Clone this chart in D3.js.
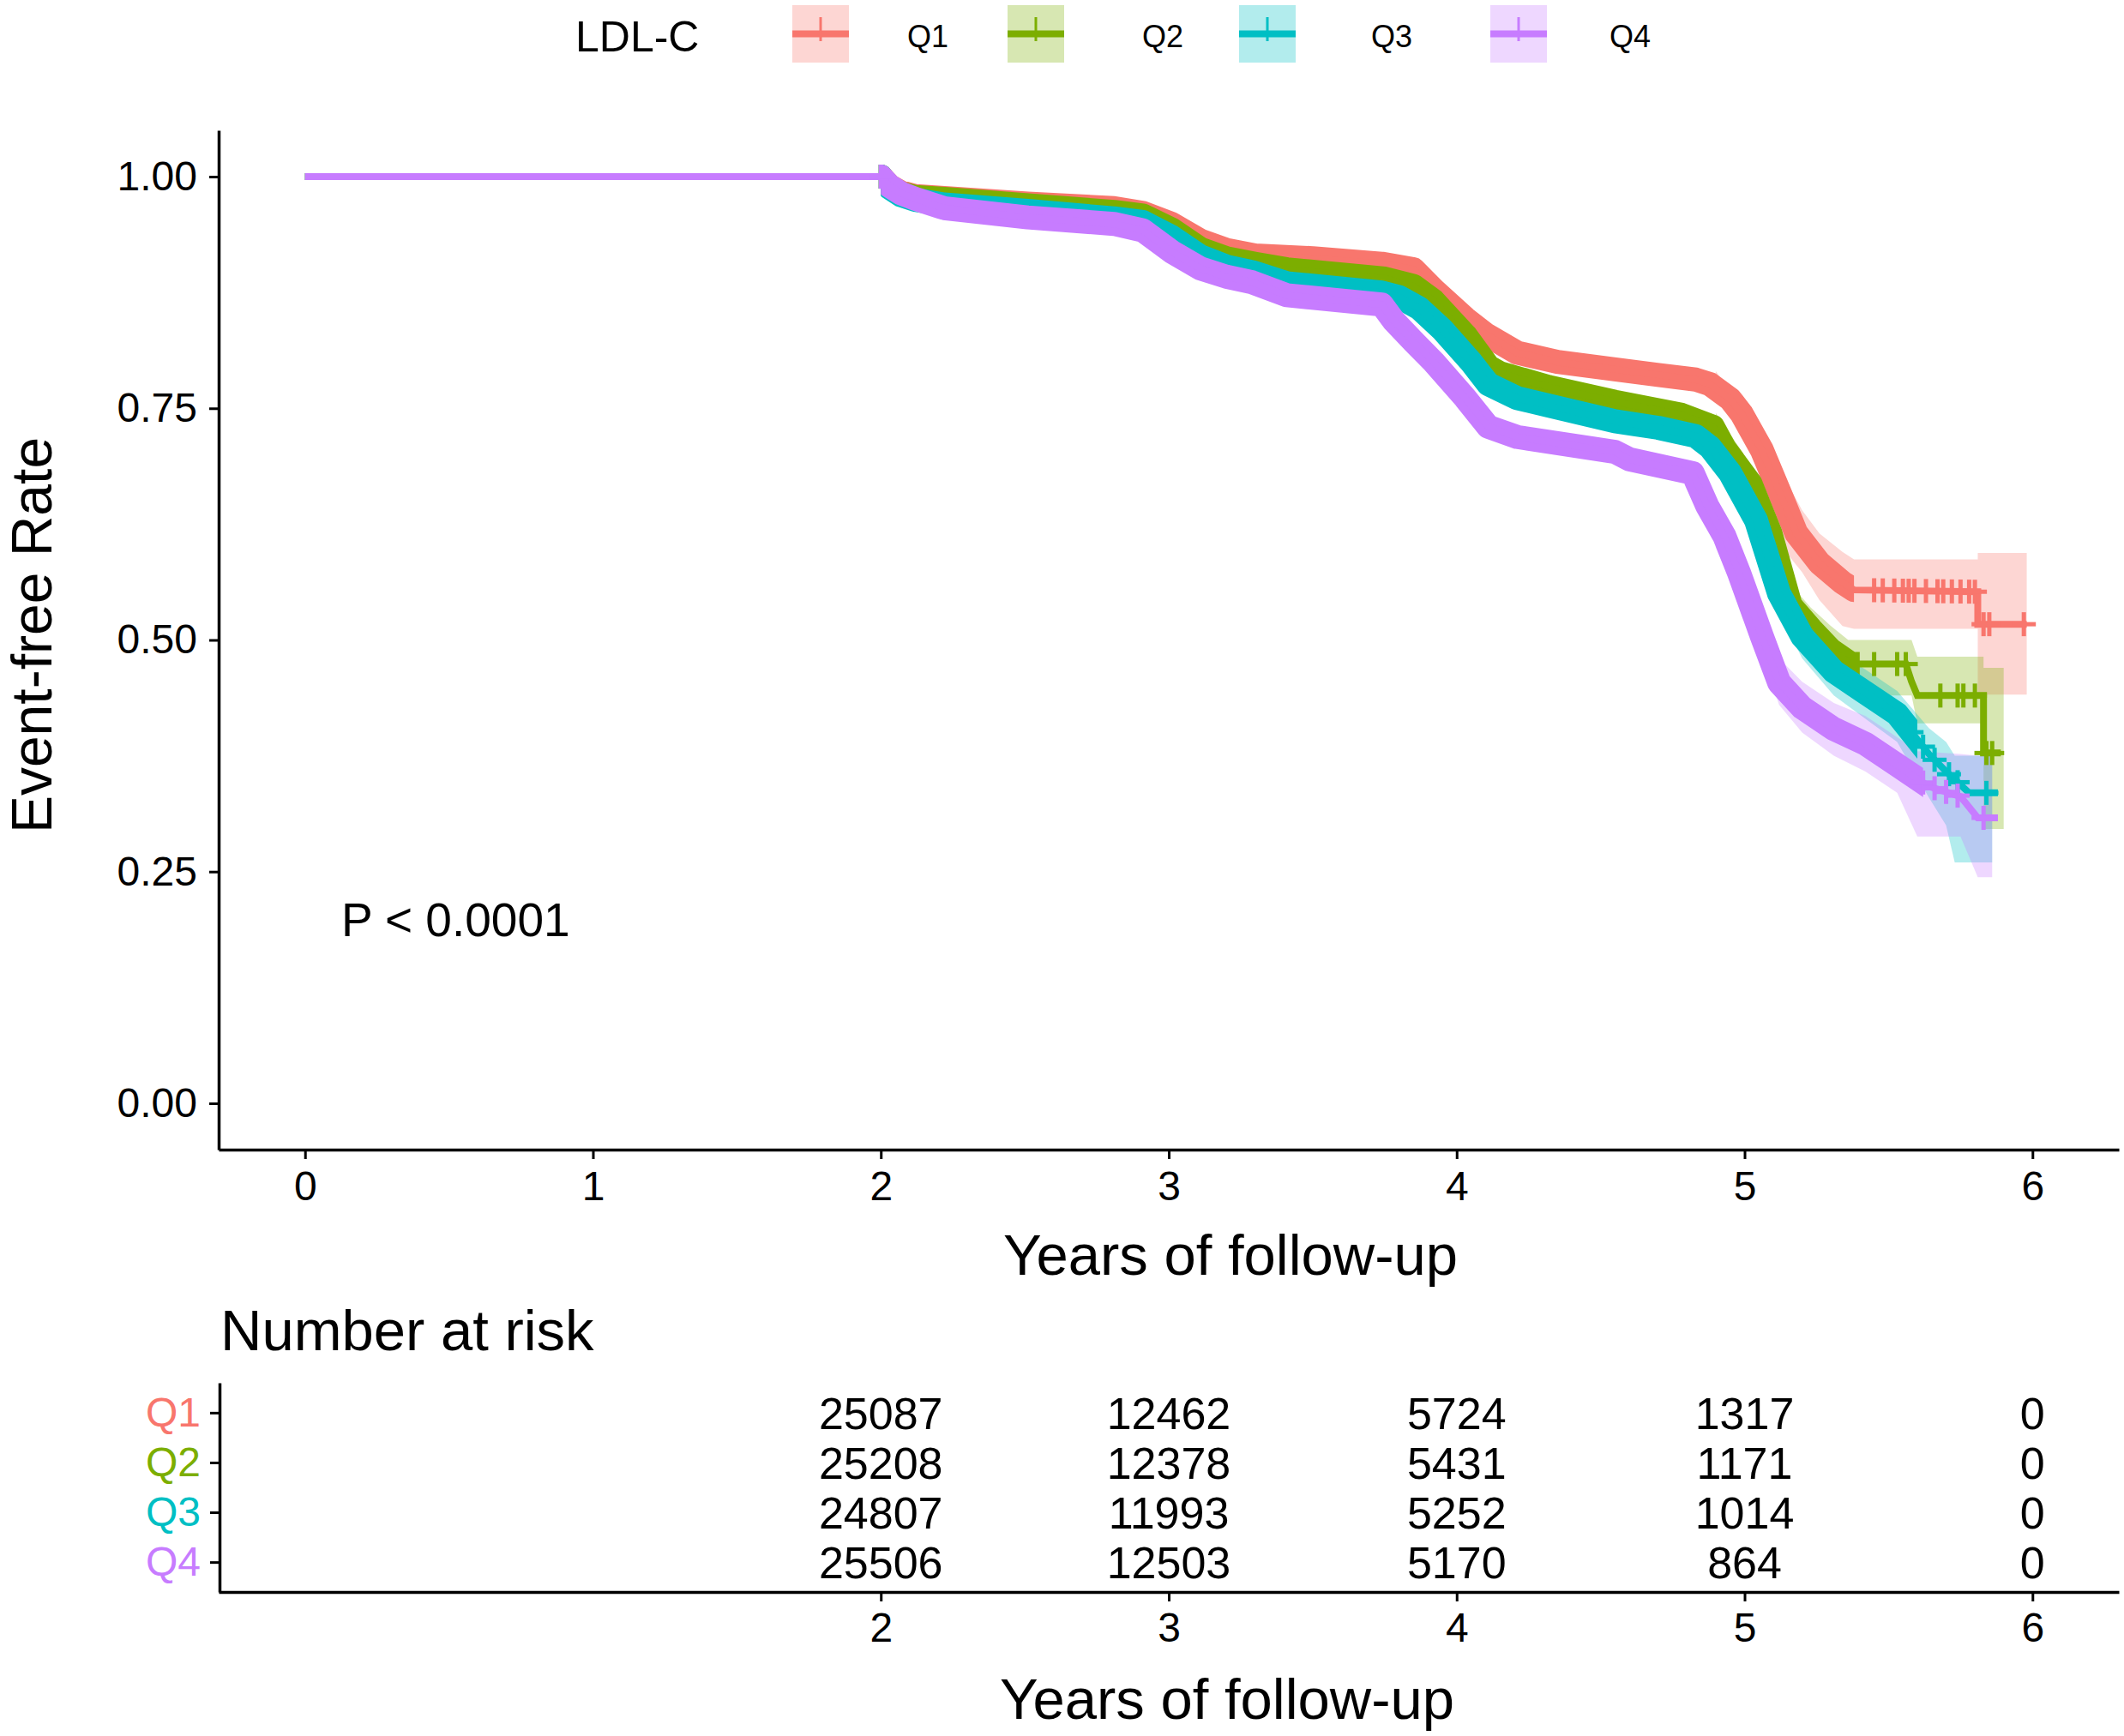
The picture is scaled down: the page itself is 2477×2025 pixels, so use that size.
<!DOCTYPE html>
<html>
<head>
<meta charset="utf-8">
<script src="https://cdn.jsdelivr.net/npm/d3@7"></script>
<style>
  body { margin: 0; background: #fff; }
  svg { display: block; font-family: "Liberation Sans", Arial, sans-serif; }
</style>
</head>
<body>
<svg id="km" width="2477" height="2025"></svg>
<script>
// ---- data ----
const groups = ["Q1", "Q2", "Q3", "Q4"];
const colors = ["#F8766D", "#7CAE00", "#00BFC4", "#C77CFF"];

// survival curve vertices (years, event-free rate); repeated time = vertical drop
const timeQ1 = [0, 2.0, 2.03, 2.07, 2.12, 2.22, 2.51, 2.81, 2.91, 3.01, 3.11, 3.2, 3.3, 3.5, 3.74, 3.85, 3.92, 4.03, 4.1, 4.21, 4.35, 4.55, 4.7, 4.83, 4.88, 4.95, 4.99, 5.06, 5.13, 5.18, 5.26, 5.34, 5.38, 5.81, 5.81, 5.98];
const survQ1 = [1, 1, 0.99, 0.983, 0.979, 0.977, 0.971, 0.966, 0.961, 0.949, 0.931, 0.921, 0.915, 0.912, 0.906, 0.9, 0.878, 0.847, 0.83, 0.81, 0.8, 0.792, 0.786, 0.781, 0.776, 0.76, 0.744, 0.705, 0.653, 0.615, 0.583, 0.562, 0.554, 0.552, 0.517, 0.517];

const timeQ2 = [0, 2.0, 2.03, 2.07, 2.12, 2.22, 2.51, 2.81, 2.91, 3.01, 3.11, 3.2, 3.3, 3.41, 3.75, 3.85, 3.92, 4.03, 4.11, 4.15, 4.32, 4.55, 4.78, 4.89, 4.93, 5.02, 5.09, 5.16, 5.23, 5.3, 5.37, 5.56, 5.58, 5.6, 5.83, 5.83, 5.89];
const survQ2 = [1, 1, 0.989, 0.982, 0.978, 0.976, 0.969, 0.962, 0.958, 0.943, 0.922, 0.912, 0.906, 0.9, 0.89, 0.882, 0.866, 0.829, 0.795, 0.788, 0.773, 0.757, 0.743, 0.73, 0.707, 0.669, 0.615, 0.537, 0.512, 0.489, 0.474, 0.474, 0.455, 0.44, 0.44, 0.378, 0.378];

const timeQ3 = [0, 2.0, 2.03, 2.07, 2.12, 2.22, 2.51, 2.81, 2.91, 3.01, 3.11, 3.2, 3.29, 3.41, 3.74, 3.8, 3.87, 3.95, 4.05, 4.11, 4.21, 4.32, 4.55, 4.7, 4.83, 4.88, 4.95, 5.04, 5.12, 5.2, 5.31, 5.42, 5.53, 5.64, 5.7, 5.78, 5.88];
const survQ3 = [1, 1, 0.988, 0.98, 0.975, 0.97, 0.963, 0.955, 0.951, 0.935, 0.914, 0.903, 0.897, 0.885, 0.875, 0.87, 0.858, 0.835, 0.8, 0.776, 0.761, 0.753, 0.736, 0.729, 0.72, 0.708, 0.68, 0.629, 0.55, 0.504, 0.466, 0.443, 0.42, 0.377, 0.358, 0.335, 0.335];

const timeQ4 = [0, 2.0, 2.03, 2.07, 2.12, 2.22, 2.51, 2.81, 2.91, 3.01, 3.11, 3.2, 3.29, 3.41, 3.74, 3.78, 3.85, 3.92, 4.03, 4.11, 4.21, 4.55, 4.6, 4.82, 4.87, 4.93, 4.98, 5.06, 5.12, 5.2, 5.31, 5.42, 5.53, 5.64, 5.75, 5.81, 5.88];
const survQ4 = [1, 1, 0.99, 0.982, 0.976, 0.966, 0.956, 0.949, 0.942, 0.919, 0.901, 0.892, 0.886, 0.872, 0.862, 0.845, 0.822, 0.8, 0.761, 0.73, 0.719, 0.703, 0.695, 0.68, 0.645, 0.612, 0.573, 0.504, 0.454, 0.427, 0.404, 0.388, 0.365, 0.342, 0.331, 0.308, 0.308];

// 95% confidence band in the tail (earlier it sits under the curve)
const ciTimeQ1 = [4.9, 5.06, 5.13, 5.2, 5.26, 5.34, 5.38, 5.81, 5.81, 5.98];
const ciLowQ1 = [0.765, 0.69, 0.6, 0.573, 0.543, 0.515, 0.512, 0.512, 0.441, 0.441];
const ciUpQ1 = [0.79, 0.72, 0.68, 0.64, 0.615, 0.595, 0.587, 0.587, 0.594, 0.594];

const ciTimeQ2 = [4.9, 5.02, 5.16, 5.23, 5.3, 5.36, 5.58, 5.6, 5.83, 5.83, 5.9];
const ciLowQ2 = [0.715, 0.65, 0.51, 0.48, 0.455, 0.44, 0.44, 0.41, 0.41, 0.296, 0.296];
const ciUpQ2 = [0.745, 0.69, 0.56, 0.535, 0.515, 0.5, 0.5, 0.482, 0.482, 0.47, 0.47];

const ciTimeQ3 = [4.9, 5.04, 5.12, 5.2, 5.31, 5.42, 5.53, 5.64, 5.7, 5.73, 5.86];
const ciLowQ3 = [0.69, 0.61, 0.53, 0.48, 0.44, 0.415, 0.39, 0.33, 0.3, 0.26, 0.26];
const ciUpQ3 = [0.72, 0.65, 0.57, 0.525, 0.49, 0.468, 0.445, 0.405, 0.39, 0.375, 0.375];

const ciTimeQ4 = [4.9, 5.06, 5.12, 5.2, 5.31, 5.42, 5.53, 5.6, 5.75, 5.81, 5.86];
const ciLowQ4 = [0.6, 0.485, 0.43, 0.4, 0.375, 0.358, 0.335, 0.288, 0.288, 0.244, 0.244];
const ciUpQ4 = [0.64, 0.525, 0.48, 0.455, 0.432, 0.418, 0.395, 0.38, 0.377, 0.375, 0.375];

// censoring: continuous from year 2 up to denseEnd, then single marks
const denseStart = 2.0;
const denseEnd = [5.38, 5.4, 5.6, 5.62];
const censorQ1 = [5.45, 5.48, 5.52, 5.55, 5.57, 5.59, 5.63, 5.67, 5.69, 5.72, 5.75, 5.78, 5.8, 5.83, 5.85, 5.97];
const censorQ2 = [5.45, 5.53, 5.56, 5.68, 5.74, 5.76, 5.8, 5.84, 5.86];
const censorQ3 = [5.58, 5.62, 5.66, 5.71, 5.74, 5.84];
const censorQ4 = [5.62, 5.66, 5.7, 5.74, 5.83];

// number at risk
const riskTimes = [2, 3, 4, 5, 6];
const riskQ1 = [25087, 12462, 5724, 1317, 0];
const riskQ2 = [25208, 12378, 5431, 1171, 0];
const riskQ3 = [24807, 11993, 5252, 1014, 0];
const riskQ4 = [25506, 12503, 5170, 864, 0];

const xTicks = [0, 1, 2, 3, 4, 5, 6];
const yTicks = [0, 0.25, 0.5, 0.75, 1];
const pLabel = "P < 0.0001";

// ---- build series ----
const times = [timeQ1, timeQ2, timeQ3, timeQ4];
const survs = [survQ1, survQ2, survQ3, survQ4];
const ciT = [ciTimeQ1, ciTimeQ2, ciTimeQ3, ciTimeQ4];
const ciL = [ciLowQ1, ciLowQ2, ciLowQ3, ciLowQ4];
const ciU = [ciUpQ1, ciUpQ2, ciUpQ3, ciUpQ4];
const censors = [censorQ1, censorQ2, censorQ3, censorQ4];
const risks = [riskQ1, riskQ2, riskQ3, riskQ4];

const series = groups.map((g, i) => ({
  name: g,
  color: colors[i],
  pts: d3.zip(times[i], survs[i]),
  ci: ciT[i].map((t, k) => ({ t: t, lo: ciL[i][k], hi: ciU[i][k] })),
  censor: censors[i],
  denseEnd: denseEnd[i],
  risk: risks[i]
}));

function survAt(pts, t) {
  for (let k = 0; k < pts.length - 1; k++) {
    const [t0, s0] = pts[k], [t1, s1] = pts[k + 1];
    if (t1 === t0) continue;
    if (t >= t0 && t <= t1) return s0 + (s1 - s0) * (t - t0) / (t1 - t0);
  }
  return pts[pts.length - 1][1];
}

const svg = d3.select("#km");
const font = "Liberation Sans, Arial, sans-serif";

// ---- main panel ----
const x = d3.scaleLinear().domain([-0.3, 6.3]).range([255, 2471]);
const y = d3.scaleLinear().domain([-0.05, 1.05]).range([1341, 152]);

const line = d3.line().x(d => x(d[0])).y(d => y(d[1]));
const area = d3.area().x(d => x(d.t)).y0(d => y(d.lo)).y1(d => y(d.hi));

const defs = svg.append("defs");
series.forEach((s, i) => {
  defs.append("clipPath")
      .attr("id", "dense" + i)
    .append("rect")
      .attr("x", x(denseStart))
      .attr("y", 0)
      .attr("width", x(s.denseEnd) - x(denseStart))
      .attr("height", 2025);
});

const plot = svg.append("g");

// confidence bands
plot.selectAll("path.ci")
    .data(series)
    .enter()
    .append("path")
    .attr("class", "ci")
    .attr("d", d => area(d.ci))
    .attr("fill", d => d.color)
    .attr("fill-opacity", 0.3);

// curves: continuous censor marks merge into a thick band
series.forEach((s, i) => {
  plot.append("path")
      .attr("d", line(s.pts))
      .attr("clip-path", `url(#dense${i})`)
      .attr("fill", "none")
      .attr("stroke", s.color)
      .attr("stroke-width", 28)
      .attr("stroke-linejoin", "round");

  plot.append("path")
      .attr("d", line(s.pts))
      .attr("fill", "none")
      .attr("stroke", s.color)
      .attr("stroke-width", 8);

  // single censor marks
  const marks = plot.append("g").attr("stroke", s.color).attr("stroke-width", 5);
  s.censor.concat([denseStart]).forEach(t => {
    const cx = x(t), cy = y(survAt(s.pts, t));
    marks.append("line").attr("x1", cx).attr("x2", cx).attr("y1", cy - 14).attr("y2", cy + 14);
    marks.append("line").attr("x1", cx - 14).attr("x2", cx + 14).attr("y1", cy).attr("y2", cy);
  });
});

// axes
function styleAxis(g, fs) {
  g.select(".domain").attr("stroke", "#000").attr("stroke-width", 3.5);
  g.selectAll(".tick line").attr("stroke", "#000").attr("stroke-width", 3);
  g.selectAll(".tick text")
    .attr("font-family", font)
    .attr("font-size", fs)
    .attr("fill", "#000");
}

svg.append("g")
    .attr("transform", "translate(0,1341)")
    .call(d3.axisBottom(x).tickValues(xTicks).tickFormat(d3.format("d"))
      .tickSize(11).tickSizeOuter(0).tickPadding(14))
    .call(g => styleAxis(g, 48));

svg.append("g")
    .attr("transform", "translate(255,0)")
    .call(d3.axisLeft(y).tickValues(yTicks).tickFormat(d3.format(".2f"))
      .tickSize(11).tickSizeOuter(0).tickPadding(14))
    .call(g => styleAxis(g, 48));

svg.append("text")
    .attr("transform", "translate(60,741) rotate(-90)")
    .attr("text-anchor", "middle")
    .attr("font-family", font)
    .attr("font-size", 66)
    .text("Event-free Rate");

svg.append("text")
    .attr("x", 1435)
    .attr("y", 1487)
    .attr("text-anchor", "middle")
    .attr("font-family", font)
    .attr("font-size", 67)
    .text("Years of follow-up");

svg.append("text")
    .attr("x", 398)
    .attr("y", 1092)
    .attr("font-family", font)
    .attr("font-size", 55)
    .text(pLabel);

// ---- legend ----
const legendKeyX = [924, 1175, 1445, 1738];
const legendTextX = [1058, 1332, 1599, 1877];

svg.append("text")
    .attr("x", 671)
    .attr("y", 60)
    .attr("font-family", font)
    .attr("font-size", 50)
    .text("LDL-C");

const keys = svg.selectAll("g.key")
    .data(series)
    .enter()
    .append("g")
    .attr("class", "key")
    .attr("transform", (d, i) => `translate(${legendKeyX[i]},6)`);

keys.append("rect")
    .attr("width", 66)
    .attr("height", 67)
    .attr("fill", d => d.color)
    .attr("fill-opacity", 0.3);

keys.append("line")
    .attr("x1", 0).attr("x2", 66)
    .attr("y1", 33.5).attr("y2", 33.5)
    .attr("stroke", d => d.color)
    .attr("stroke-width", 8);

keys.append("line")
    .attr("x1", 33).attr("x2", 33)
    .attr("y1", 14).attr("y2", 42)
    .attr("stroke", d => d.color)
    .attr("stroke-width", 3);

svg.selectAll("text.keylabel")
    .data(series)
    .enter()
    .append("text")
    .attr("class", "keylabel")
    .attr("x", (d, i) => legendTextX[i])
    .attr("y", 55)
    .attr("font-family", font)
    .attr("font-size", 36)
    .text(d => d.name);

// ---- risk table ----
svg.append("text")
    .attr("x", 257)
    .attr("y", 1575)
    .attr("font-family", font)
    .attr("font-size", 67)
    .text("Number at risk");

const ty = d3.scalePoint().domain(groups).range([1613, 1857]).padding(0.6);

const table = svg.append("g");
series.forEach(s => {
  table.selectAll(null)
      .data(riskTimes.map((t, k) => ({ t: t, n: s.risk[k] })))
      .enter()
      .append("text")
      .attr("x", d => x(d.t))
      .attr("y", ty(s.name))
      .attr("dy", "0.36em")
      .attr("text-anchor", "middle")
      .attr("font-family", font)
      .attr("font-size", 52)
      .text(d => d.n);
});

svg.append("g")
    .attr("transform", "translate(0,1857)")
    .call(d3.axisBottom(x).tickValues(riskTimes).tickFormat(d3.format("d"))
      .tickSize(11).tickSizeOuter(0).tickPadding(13))
    .call(g => styleAxis(g, 48));

svg.append("g")
    .attr("transform", "translate(256,0)")
    .call(d3.axisLeft(ty).tickSize(11).tickSizeOuter(0).tickPadding(11))
    .call(g => styleAxis(g, 48))
    .call(g => g.selectAll(".tick text").attr("fill", d => colors[groups.indexOf(d)]));

svg.append("text")
    .attr("x", 1431)
    .attr("y", 2005)
    .attr("text-anchor", "middle")
    .attr("font-family", font)
    .attr("font-size", 67)
    .text("Years of follow-up");
</script>
</body>
</html>
